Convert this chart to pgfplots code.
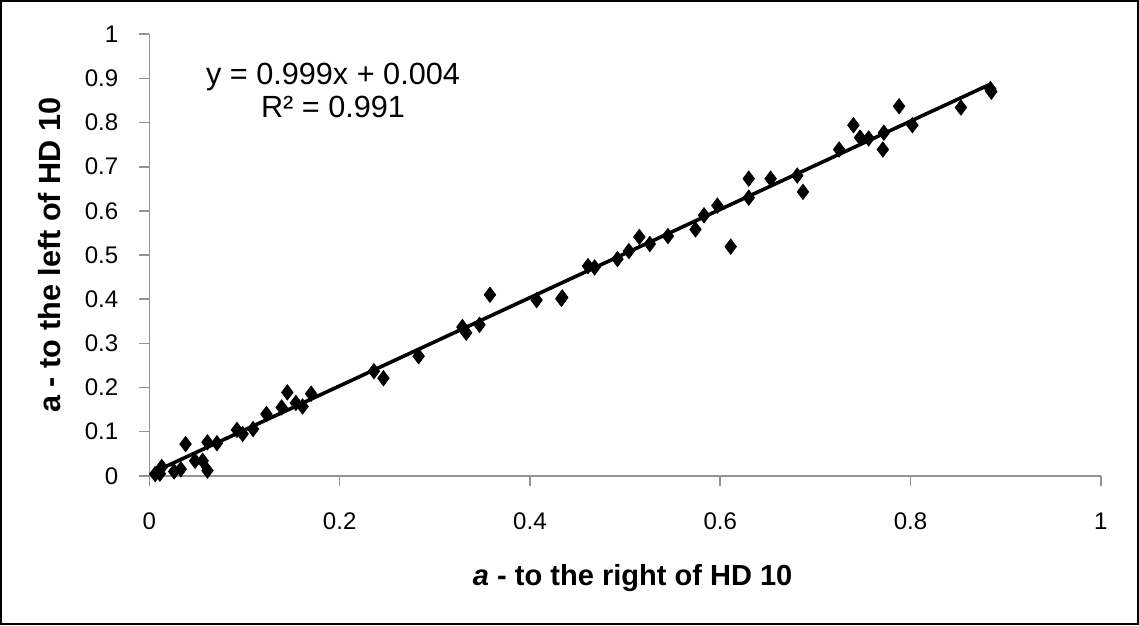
\documentclass[border=0pt]{standalone}
\usepackage{fontspec}
\setmainfont{Liberation Sans}
\usepackage{pgfplots}
\pgfplotsset{compat=1.18}

\begin{document}
\begin{tikzpicture}
\begin{axis}[
  name=ax,
  scale only axis,
  width=475pt, height=220.5pt,
  xmin=0, xmax=1, ymin=0, ymax=1,
  separate axis lines,
  axis x line=bottom, axis y line=left,
  axis line style={-, draw=gray!85, line width=0.8pt},
  xtick={0,0.2,0.4,0.6,0.8,1},
  ytick={0,0.1,0.2,0.3,0.4,0.5,0.6,0.7,0.8,0.9,1},
  tick align=outside,
  major tick length=5pt,
  tick style={draw=gray!85, line width=0.8pt},
  /pgf/number format/assume math mode=true,
  /pgf/number format/fixed,
  ticklabel style={font=\fontsize{12}{14}\selectfont},
  xticklabel style={yshift=-10pt},
  yticklabel style={xshift=-7pt},
  xlabel={\textbf{\textit{a} - to the right of HD 10}},
  ylabel={\textbf{a - to the left of HD 10}},
  xlabel style={font=\fontsize{14.5}{17}\selectfont, at={(axis description cs:0.508,-0.231)}, anchor=center},
  ylabel style={font=\fontsize{15.3}{18}\selectfont, at={(axis description cs:-0.105,0.5)}, anchor=center},
  clip=false,
]
% measured pairs
\addplot[only marks, mark=diamond*, mark size=3.8pt, black] coordinates {
  (0.006,0.004) (0.011,0.005) (0.013,0.020) (0.026,0.010) (0.033,0.015)
  (0.038,0.072) (0.048,0.034) (0.056,0.034) (0.061,0.012) (0.061,0.076)
  (0.071,0.074) (0.092,0.104) (0.098,0.095) (0.109,0.106) (0.123,0.140)
  (0.139,0.155) (0.145,0.189) (0.154,0.165) (0.161,0.157) (0.170,0.186)
  (0.236,0.237) (0.246,0.221) (0.283,0.271) (0.329,0.337) (0.333,0.324)
  (0.347,0.342) (0.358,0.410) (0.407,0.398) (0.433,0.401) (0.434,0.404)
  (0.461,0.475) (0.468,0.472) (0.492,0.491) (0.504,0.509) (0.515,0.541)
  (0.526,0.525) (0.545,0.543) (0.574,0.558) (0.583,0.590) (0.597,0.612)
  (0.611,0.519) (0.630,0.673) (0.630,0.630) (0.653,0.673) (0.681,0.680)
  (0.687,0.643) (0.725,0.739) (0.740,0.794) (0.747,0.766) (0.756,0.764)
  (0.771,0.739) (0.772,0.777) (0.788,0.837) (0.802,0.794) (0.853,0.834)
  (0.884,0.876) (0.885,0.870)
};
% least-squares line y = 0.999x + 0.004
\addplot[black, line width=1.8pt] coordinates {(0.005,0.009) (0.885,0.888)};
\node[align=center, font=\fontsize{15.3}{16.5}\selectfont] at (axis cs:0.193,0.873)
  {y = 0.999x + 0.004\\R² = 0.991};
\end{axis}
\draw[line width=1.2pt] ([shift={(-74pt,-74pt)}]ax.south west)
  rectangle ([shift={(18.5pt,16.5pt)}]ax.north east);
\end{tikzpicture}
\end{document}
